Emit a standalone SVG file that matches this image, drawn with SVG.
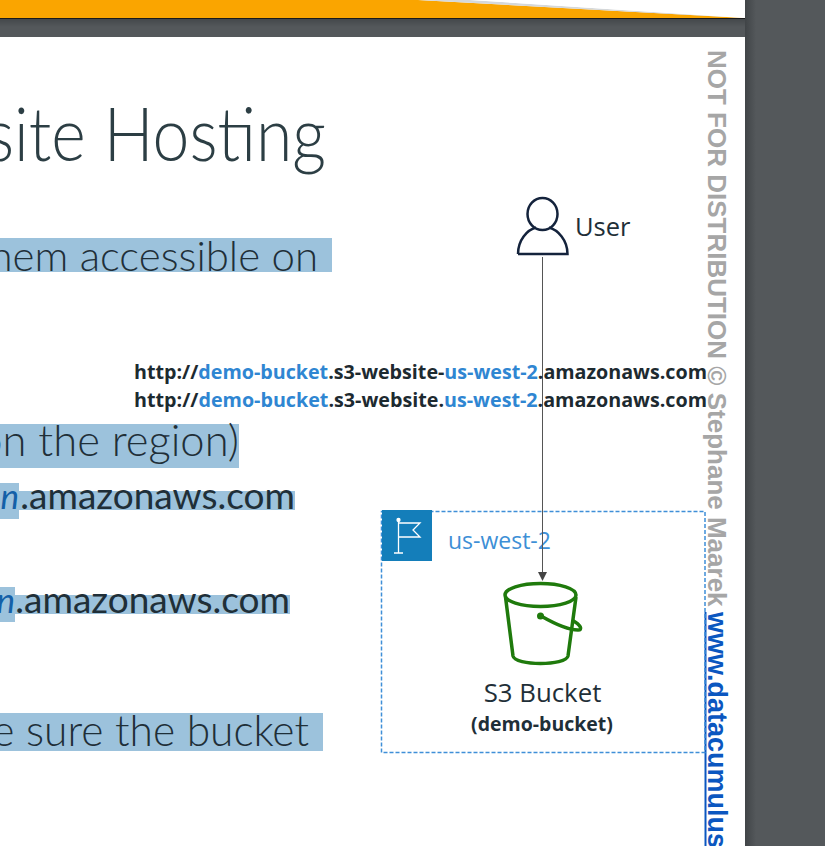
<svg xmlns="http://www.w3.org/2000/svg" width="825" height="846" viewBox="0 0 825 846">
<style>
.sl{font-family:"Lato","Liberation Sans",sans-serif;font-weight:300;fill:#1f2f38;text-anchor:end}
.ui{font-family:"Open Sans","Noto Sans",sans-serif}
.url{font-family:"Open Sans","Noto Sans",sans-serif;font-weight:700;font-size:20px;fill:#1d2a30}
.b{fill:#2f86d2}
.hl{fill:#9cc2dc}
.wm{font-family:"Liberation Sans",Arial,sans-serif;font-weight:700}
</style>
<defs>
<linearGradient id="sh" x1="0" x2="1" y1="0" y2="0"><stop offset="0" stop-color="#404447"/><stop offset="1" stop-color="#54585b"/></linearGradient>
<linearGradient id="shv" x1="0" x2="0" y1="0" y2="1"><stop offset="0" stop-color="#44484b"/><stop offset="1" stop-color="#54585b"/></linearGradient>
<marker id="ah" viewBox="0 0 10 10" refX="9" refY="5" markerWidth="10" markerHeight="9" markerUnits="userSpaceOnUse" orient="auto"><path d="M0 0L10 5L0 10z" fill="#444"/></marker>
</defs>
<rect width="825" height="846" fill="#54585b"/>
<rect x="745" y="0" width="11" height="846" fill="url(#sh)"/>
<rect x="0" y="19" width="745" height="8" fill="url(#shv)"/>
<g id="top-band">
<rect x="0" y="0" width="745" height="18" fill="#fff"/>
<polygon points="418,0 745,18 400,18 0,18 0,0" fill="#faa500"/>
<polygon points="418,0 470,0 745,18" fill="#d5d8da"/>
<polygon points="470,0 745,0 745,18" fill="#fff"/>
<rect x="0" y="18" width="745" height="1" fill="#1a1a1a"/>
</g>
<rect id="page" x="0" y="37" width="745" height="809" fill="#fff"/>
<g id="slide-text">
<rect class="hl" x="0" y="238" width="332" height="34"/>
<rect class="hl" x="0" y="424" width="239" height="44"/>
<rect class="hl" x="0" y="483" width="19" height="36"/>
<rect class="hl" x="19" y="491" width="276" height="19"/>
<rect class="hl" x="0" y="587" width="15" height="35"/>
<rect class="hl" x="15" y="595" width="275" height="19"/>
<rect class="hl" x="0" y="713" width="323" height="38"/>
<text x="-14" y="161" font-size="74" textLength="340" lengthAdjust="spacingAndGlyphs" font-family="Lato,sans-serif" font-weight="300" fill="#2c3e44">site Hosting</text>
<text class="sl" x="318" y="271" font-size="42">hem accessible on</text>
<text class="sl" x="239" y="456" font-size="43.500">on the region)</text>
<text class="sl" x="295" y="509" font-size="37" style="font-weight:400">.amazonaws.com</text>
<text class="sl" x="290" y="613" font-size="37" style="font-weight:400">.amazonaws.com</text>
<text x="19" y="509" font-size="35" font-style="italic" text-anchor="end" font-family="Lato,sans-serif" fill="#1460a8">n</text>
<text x="15" y="613" font-size="35" font-style="italic" text-anchor="end" font-family="Lato,sans-serif" fill="#1460a8">n</text>
<text class="sl" x="309" y="746" font-size="42.500">e sure the bucket</text>
</g>
<g id="watermark">
<text class="wm" font-size="26" transform="translate(708 50) rotate(90)" fill="#a6a6a6">NOT FOR DISTRIBUTION © Stephane Maarek</text>
<text class="wm" font-size="27" transform="translate(708 612) rotate(90)" fill="#0b57c0">www.datacumulus</text>
<line x1="705.500" y1="612" x2="705.500" y2="846" stroke="#0b57c0" stroke-width="2"/>
</g>
<g id="region">
<rect x="381.500" y="511.500" width="323.500" height="241" fill="none" stroke="#3f8fd8" stroke-width="1.500" stroke-dasharray="4 2"/>
<rect x="382" y="510" width="50" height="51" fill="#147eba"/>
<g fill="none" stroke="#fff" stroke-width="1.300">
<path d="M398.500 521V553M394 553H403M398.500 523H420L413 530L420 537H398.500"/>
<circle cx="398.500" cy="520" r="1.500" fill="#fff"/>
</g>
<text class="ui" x="448" y="549" font-size="23" fill="#3d8fd6">us-west-2</text>
</g>
<g id="connectors">
<line x1="542.500" y1="257" x2="542.500" y2="580" stroke="#555" stroke-width="1" marker-end="url(#ah)"/>
</g>
<g id="url-labels">
<text class="url" x="134" y="379" textLength="573" lengthAdjust="spacingAndGlyphs">http://<tspan class="b">demo-bucket</tspan>.s3-website-<tspan class="b">us-west-2</tspan>.amazonaws.com</text>
<text class="url" x="134" y="407" textLength="573" lengthAdjust="spacingAndGlyphs">http://<tspan class="b">demo-bucket</tspan>.s3-website.<tspan class="b">us-west-2</tspan>.amazonaws.com</text>
</g>
<g id="user">
<ellipse cx="542.500" cy="214" rx="15" ry="16" fill="none" stroke="#14233c" stroke-width="2.500"/>
<path d="M518 254H567.500C567.500 240 558 230 549 227.500M518 254C518 240 527 230 536 227.500" fill="none" stroke="#14233c" stroke-width="2.500"/>
<text class="ui" x="575" y="236" font-size="25.500" fill="#1f2f38">User</text>
</g>
<g id="bucket">
<g fill="none" stroke="#1f7a0c" stroke-width="3.500">
<ellipse cx="540.500" cy="595" rx="35.500" ry="11.500"/>
<path d="M505.500 597L513 656C515 666 566 666 568 656L576 597"/>
<path d="M541 616C555 624 568 630 578 630C583 630 581 625 572 620"/>
</g>
<circle cx="540.500" cy="616" r="3.500" fill="#1f7a0c"/>
<text class="ui" x="542.500" y="702" font-size="25.800" text-anchor="middle" fill="#1f2f38">S3 Bucket</text>
<text class="ui" x="542" y="731" font-size="19.500" font-weight="700" text-anchor="middle" fill="#1f2f38">(demo-bucket)</text>
</g>
</svg>
